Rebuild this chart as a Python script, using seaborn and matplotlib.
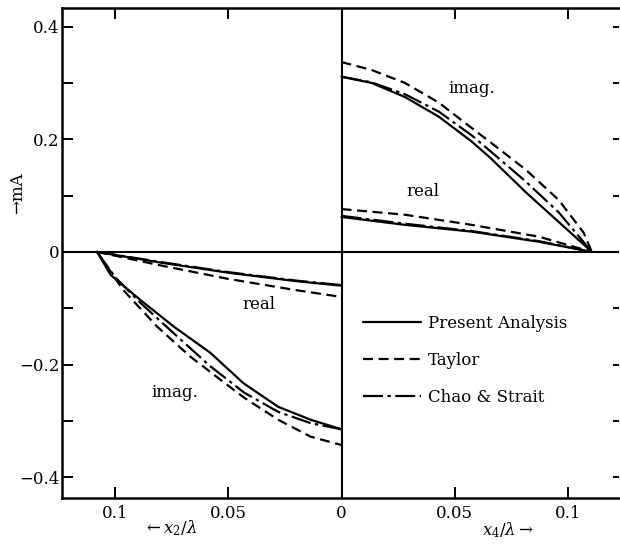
import numpy as np
import pandas as pd
import matplotlib
matplotlib.use('Agg')
import matplotlib.pyplot as plt
import seaborn as sns

# ---- data ----
# right half: x4 / lambda
x4_imag = [0, 0.0133, 0.028, 0.043, 0.0575, 0.066, 0.0814, 0.096, 0.1106]
present_imag_r = [0.311, 0.300, 0.275, 0.240, 0.196, 0.166, 0.106, 0.053, 0]
chao_imag_r = [0.311, 0.301, 0.280, 0.249, 0.207, 0.178, 0.125, 0.070, 0]
x4_taylor_imag = [0, 0.0133, 0.028, 0.043, 0.0575, 0.066, 0.0814, 0.096, 0.107, 0.1106]
taylor_imag_r = [0.337, 0.323, 0.300, 0.265, 0.220, 0.194, 0.146, 0.092, 0.034, 0]

x4_real = [0, 0.028, 0.0575, 0.0872, 0.1106]
present_real_r = [0.062, 0.048, 0.036, 0.018, 0]
chao_real_r = [0.064, 0.050, 0.037, 0.019, 0]
taylor_real_r = [0.076, 0.066, 0.048, 0.027, 0]

# left half: x2 / lambda (plotted to the left of zero)
x2_real = [0.108, 0.08, 0.05, 0.02, 0]
present_real_l = [0, -0.019, -0.037, -0.052, -0.060]
chao_real_l = [0, -0.018, -0.036, -0.051, -0.059]
taylor_real_l = [0, -0.024, -0.048, -0.068, -0.080]

x2_present_imag = [0.108, 0.102, 0.089, 0.074, 0.058, 0.0434, 0.028, 0.0137, 0]
present_imag_l = [0, -0.041, -0.085, -0.133, -0.179, -0.233, -0.275, -0.298, -0.315]
x2_chao_imag = [0.108, 0.1, 0.089, 0.074, 0.058, 0.043, 0.028, 0.0137, 0]
chao_imag_l = [0, -0.045, -0.09, -0.145, -0.203, -0.25, -0.284, -0.304, -0.315]
x2_taylor_imag = [0.108, 0.0965, 0.0814, 0.0668, 0.0535, 0.043, 0.028, 0.0137, 0]
taylor_imag_l = [0, -0.0675, -0.133, -0.186, -0.227, -0.259, -0.298, -0.328, -0.343]

x_ticks = [-0.1, -0.05, 0, 0.05, 0.1]
x_ticklabels = ['0.1', '0.05', '0', '0.05', '0.1']
y_ticks = [-0.4, -0.3, -0.2, -0.1, 0, 0.1, 0.2, 0.3, 0.4]
y_ticklabels = ['\u22120.4', '', '\u22120.2', '', '0', '', '0.2', '', '0.4']

sns.set_theme(style='ticks')
plt.rcParams['font.family'] = ['DejaVu Serif']
plt.rcParams['mathtext.fontset'] = 'dejavuserif'
plt.rcParams['text.color'] = 'black'

DASHED = (0, (4.5, 2.5))
DASHDOT = (0, (9, 2, 1.5, 2))
LW = 1.6

fig = plt.figure(figsize=(6.2, 5.49), dpi=100)
ax = fig.add_axes([0.1, 0.0929, 0.898, 0.8925])

def draw(x, y, ls, label=None, flip=False):
    xs = -np.array(x) if flip else np.array(x)
    sns.lineplot(x=xs, y=y, ax=ax, color='black', linestyle=ls, linewidth=LW,
                 sort=False, estimator=None, label=label, legend=False)

# right half
draw(x4_imag, present_imag_r, '-', 'Present Analysis')
draw(x4_taylor_imag, taylor_imag_r, DASHED, 'Taylor')
draw(x4_imag, chao_imag_r, DASHDOT, 'Chao & Strait')
draw(x4_real, present_real_r, '-')
draw(x4_real, chao_real_r, DASHDOT)
draw(x4_real, taylor_real_r, DASHED)

# left half
draw(x2_real, present_real_l, '-', flip=True)
draw(x2_real, chao_real_l, DASHDOT, flip=True)
draw(x2_real, taylor_real_l, DASHED, flip=True)
draw(x2_present_imag, present_imag_l, '-', flip=True)
draw(x2_chao_imag, chao_imag_l, DASHDOT, flip=True)
draw(x2_taylor_imag, taylor_imag_l, DASHED, flip=True)

# cross lines through origin
ax.axhline(0, color='black', lw=1.5)
ax.axvline(0, color='black', lw=1.5)

ax.set_xlim(-0.1235, 0.1225)
ax.set_ylim(-0.437, 0.433)
ax.set_xticks(x_ticks)
ax.set_xticklabels(x_ticklabels)
ax.set_yticks(y_ticks)
ax.set_yticklabels(y_ticklabels)
ax.tick_params(axis='both', direction='in', length=8, width=1.4, labelsize=12,
               colors='black', top=True, right=False)
ax.tick_params(axis='y', pad=2)
ax.tick_params(axis='x', pad=5)
for side in ['left', 'top', 'bottom']:
    ax.spines[side].set_linewidth(1.8)
    ax.spines[side].set_color('black')
ax.spines['right'].set_visible(False)
ax.set_xlabel('')
ax.set_ylabel('')

# short ticks on the right edge, no spine
sec = ax.secondary_yaxis('right')
sec.set_yticks(y_ticks)
sec.set_yticklabels([])
sec.tick_params(direction='in', length=4, width=1.4, colors='black')
sec.spines['right'].set_visible(False)

# curve labels
ax.text(0.0575, 0.29, 'imag.', ha='center', va='center', fontsize=12)
ax.text(0.036, 0.108, 'real', ha='center', va='center', fontsize=12)
ax.text(-0.0367, -0.094, 'real', ha='center', va='center', fontsize=12)
ax.text(-0.0735, -0.249, 'imag.', ha='center', va='center', fontsize=12)

leg = ax.legend(loc='upper left', bbox_to_anchor=(0.525, 0.39), frameon=False,
                fontsize=12, handlelength=3.5, handletextpad=0.4, labelspacing=1.2,
                borderpad=0)
for t in leg.get_texts():
    t.set_color('black')

# axis titles
fig.text(18 / 620, 1 - 193 / 549, '\u2192mA', rotation=90, ha='center', va='center', fontsize=12)
fig.text(170 / 620, 1 - 528 / 549, r'$\leftarrow x_2/\lambda$', ha='center', va='center', fontsize=12)
fig.text(508 / 620, 1 - 530 / 549, r'$x_4/\lambda \rightarrow$', ha='center', va='center', fontsize=12)

fig.savefig('out.png', dpi=100)
